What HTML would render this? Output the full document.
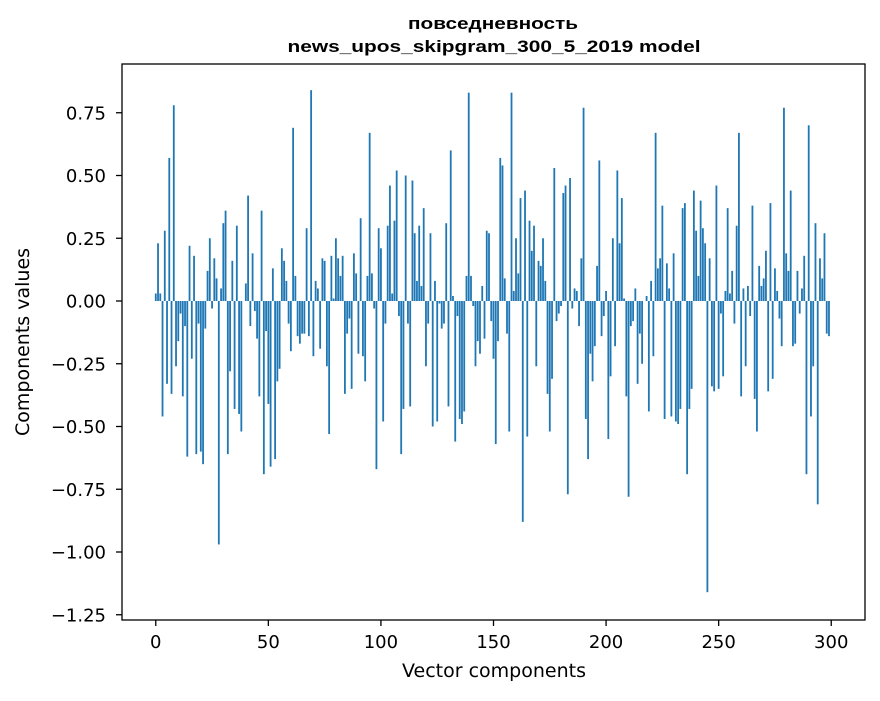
<!DOCTYPE html>
<html><head><meta charset="utf-8"><style>
body{margin:0;background:#fff;}
svg text{font-family:"DejaVu Sans","Liberation Sans",sans-serif;fill:#000;}
svg text.ttl{font-family:"Liberation Sans",sans-serif;}
</style></head><body>
<svg id="chart" width="880" height="696" xmlns="http://www.w3.org/2000/svg">
<text class="ttl" x="493" y="29" text-anchor="middle" font-size="17" font-weight="bold" textLength="170" lengthAdjust="spacingAndGlyphs">повседневность</text>
<text class="ttl" x="494" y="52" text-anchor="middle" font-size="17" font-weight="bold" textLength="413" lengthAdjust="spacingAndGlyphs">news_upos_skipgram_300_5_2019 model</text>
<g id="bars"></g>
<g id="xticks"></g>
<g id="yticks"></g>
<rect x="122" y="64" width="743" height="556" fill="none" stroke="#000" stroke-width="1.3"/>
<text x="494" y="677" text-anchor="middle" font-size="19">Vector components</text>
<text x="29" y="342" text-anchor="middle" font-size="19" transform="rotate(-90 29 342)">Components values</text>
</svg>
<script>
const values = [0.03,0.23,0.03,-0.46,0.28,-0.33,0.57,-0.37,0.78,-0.26,
-0.16,-0.05,-0.38,-0.10,-0.62,0.22,-0.23,0.18,-0.61,-0.09,
-0.60,-0.65,-0.11,0.12,0.25,-0.03,0.17,0.09,-0.97,0.05,
0.31,0.36,-0.61,-0.28,0.16,-0.43,0.30,-0.45,-0.52,0.00,
0.07,0.42,-0.10,0.19,-0.04,-0.15,-0.38,0.36,-0.69,-0.12,
-0.41,-0.66,0.13,-0.63,-0.32,-0.27,0.21,0.16,0.08,-0.09,
-0.20,0.69,0.10,-0.14,-0.17,-0.13,-0.13,0.29,-0.14,0.84,
-0.22,0.08,0.05,-0.19,0.17,0.16,-0.26,-0.53,0.18,0.01,
0.25,0.17,0.10,0.18,-0.37,-0.13,-0.07,-0.35,0.19,0.11,
-0.21,0.33,-0.22,-0.32,0.10,0.67,0.11,-0.03,-0.67,0.29,
0.21,-0.48,-0.09,0.30,0.46,0.03,0.32,0.52,-0.06,-0.61,
-0.43,0.50,-0.09,-0.42,0.48,0.27,0.08,0.30,0.06,0.37,
-0.26,-0.09,0.27,-0.50,0.08,-0.48,-0.01,-0.11,-0.09,0.31,
-0.42,0.60,0.02,-0.56,-0.06,-0.47,-0.49,-0.44,0.10,0.83,
0.10,-0.02,-0.26,-0.16,-0.21,0.06,-0.15,0.28,0.27,-0.08,
-0.23,-0.57,-0.16,0.57,0.54,0.09,-0.13,-0.52,0.83,0.04,
0.25,0.11,0.41,-0.88,0.44,-0.54,0.32,0.20,0.30,-0.26,
0.16,0.14,0.25,0.08,-0.37,-0.52,-0.31,0.53,-0.08,-0.05,
-0.02,0.43,0.46,-0.77,0.49,-0.03,0.05,0.04,-0.10,0.17,
0.77,-0.47,-0.63,-0.21,-0.32,-0.18,0.14,0.56,-0.14,-0.06,
0.04,-0.55,-0.30,0.25,-0.18,0.52,0.23,0.41,0.01,-0.38,
-0.78,-0.10,-0.08,0.05,-0.33,-0.13,-0.25,0.00,0.02,-0.44,
0.08,-0.22,0.67,0.13,0.17,0.38,-0.47,0.15,0.05,-0.46,
0.19,-0.48,-0.49,-0.43,0.37,0.39,-0.69,-0.43,-0.35,0.44,
0.28,0.10,0.40,0.29,0.23,-1.16,0.17,-0.34,-0.36,0.46,
-0.35,-0.05,-0.30,0.04,0.37,0.03,0.12,-0.09,0.30,0.67,
-0.38,0.05,-0.26,0.06,-0.06,0.38,-0.39,-0.52,0.14,0.06,
0.09,0.20,-0.36,0.39,-0.31,0.13,0.04,-0.07,-0.18,0.77,
0.19,0.12,0.44,-0.18,-0.17,0.12,-0.05,0.05,0.18,-0.69,
0.70,-0.46,-0.26,0.31,-0.81,0.17,0.09,0.27,-0.13,-0.14];
const xTicks = [0,50,100,150,200,250,300];
const yTicks = [0.75,0.5,0.25,0,-0.25,-0.5,-0.75,-1.0,-1.25];
const yTickLabels = ["0.75","0.50","0.25","0.00","−0.25","−0.50","−0.75","−1.00","−1.25"];

const NS="http://www.w3.org/2000/svg";
const X0=122,X1=865,Y0=64,Y1=620;
const xmin=-15,xmax=315;
const ymax=(301-Y0)/251, ymin=(301-Y1)/251;
const xs=v=>X0+(v-xmin)/(xmax-xmin)*(X1-X0);
const ys=v=>Y0+(ymax-v)/(ymax-ymin)*(Y1-Y0);
const bars=document.getElementById('bars');
const bw=(xs(1)-xs(0))*0.8;
values.forEach((v,i)=>{
  const r=document.createElementNS(NS,'rect');
  const a=ys(Math.max(v,0)), b=ys(Math.min(v,0));
  r.setAttribute('x',xs(i)-bw/2);
  r.setAttribute('y',a);
  r.setAttribute('width',bw);
  r.setAttribute('height',Math.max(b-a,0.01));
  r.setAttribute('fill','#1f77b4');
  
  
  bars.appendChild(r);
});
const xg=document.getElementById('xticks');
xTicks.forEach(t=>{
  const x=xs(t);
  const l=document.createElementNS(NS,'line');
  l.setAttribute('x1',x);l.setAttribute('x2',x);l.setAttribute('y1',Y1);l.setAttribute('y2',Y1+6);
  l.setAttribute('stroke','#000');l.setAttribute('stroke-width','1.3');
  
  
  xg.appendChild(l);
  const tx=document.createElementNS(NS,'text');
  tx.setAttribute('x',x);tx.setAttribute('y',Y1+28);tx.setAttribute('text-anchor','middle');tx.setAttribute('font-size','18');
  tx.textContent=t;
  
  
  xg.appendChild(tx);
});
const yg=document.getElementById('yticks');
yTicks.forEach((t,i)=>{
  const y=ys(t);
  const l=document.createElementNS(NS,'line');
  l.setAttribute('x1',X0-6);l.setAttribute('x2',X0);l.setAttribute('y1',y);l.setAttribute('y2',y);
  l.setAttribute('stroke','#000');l.setAttribute('stroke-width','1.3');
  
  
  yg.appendChild(l);
  const tx=document.createElementNS(NS,'text');
  tx.setAttribute('x',X0-16);tx.setAttribute('y',y+6.5);tx.setAttribute('text-anchor','end');tx.setAttribute('font-size','18');
  tx.textContent=yTickLabels[i];
  
  
  yg.appendChild(tx);
});
</script>
</body></html>
